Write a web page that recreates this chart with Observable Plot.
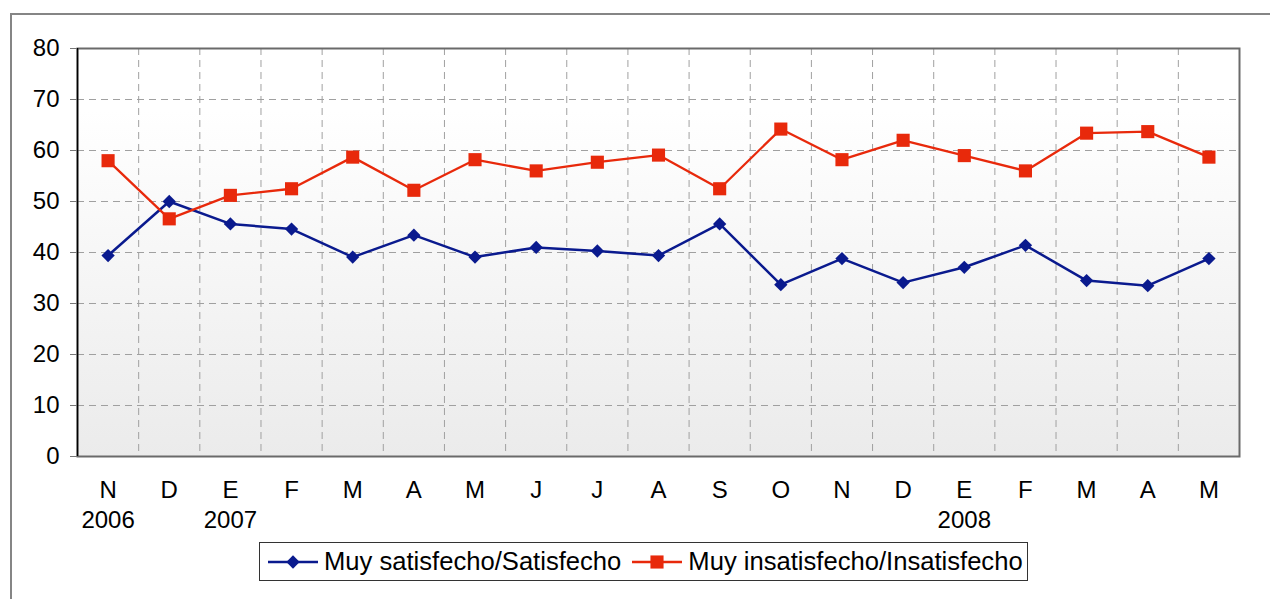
<!DOCTYPE html>
<html>
<head>
<meta charset="utf-8">
<script src="https://cdn.jsdelivr.net/npm/d3@7"></script>
<script src="https://cdn.jsdelivr.net/npm/@observablehq/plot@0.6"></script>
<style>
  html, body { margin: 0; padding: 0; background: #fff; overflow: hidden; width: 1270px; height: 599px; }
  body { position: relative; font-family: "Liberation Sans", Arial, sans-serif; }
  #outer { position: absolute; left: 10px; top: 13px; width: 1400px; height: 800px;
           border-top: 2px solid #858585; border-left: 2px solid #858585; box-sizing: border-box; }
  #chart { position: absolute; left: 0; top: 0; }
  #legend { position: absolute; left: 259px; top: 542px; width: 769px; height: 39px; box-sizing: border-box;
            border: 1px solid #333; background: #fff; display: flex; align-items: center;
            font-size: 25.6px; color: #000; white-space: nowrap; }
  #legend .item { display: flex; align-items: center; }
  #legend svg { display: block; }
</style>
</head>
<body>
<div id="outer"></div>
<div id="chart"></div>
<div id="legend"></div>
<script>
const months = ["N","D","E","F","M","A","M","J","J","A","S","O","N","D","E","F","M","A","M"];
const years  = ["2006","","2007","","","","","","","","","","","","2008","","","",""];
const satisfecho   = [39.4,50.0,45.6,44.6,39.1,43.4,39.1,41.0,40.3,39.4,45.6,33.7,38.8,34.1,37.1,41.4,34.5,33.5,38.8];
const insatisfecho = [58.0,46.6,51.2,52.5,58.7,52.2,58.2,56.0,57.7,59.1,52.5,64.2,58.2,62.0,59.0,56.0,63.4,63.7,58.7];
const yTicks = [0,10,20,30,40,50,60,70,80];
const seriesNames = ["Muy satisfecho/Satisfecho", "Muy insatisfecho/Insatisfecho"];
const seriesColors = ["#0a1a8e", "#e8290b"];

const idx = months.map((_, i) => i);
const xDomain = [-0.5, months.length - 0.5];
const boundaries = idx.slice(1).map(i => i - 0.5);
const gridY = yTicks.slice(1, -1);

const plot = Plot.plot({
  width: 1270,
  height: 535,
  marginTop: 48,
  marginLeft: 77,
  marginRight: 31,
  marginBottom: 79,
  style: { background: "transparent", fontFamily: "'Liberation Sans', Arial, sans-serif", fontSize: "24px", color: "#000" },
  x: { type: "linear", domain: xDomain },
  y: { domain: [0, 80] },
  marks: [
    Plot.frame({ fill: "url(#bgGrad)" }),
    Plot.gridY(gridY, { stroke: "#a0a0a0", strokeOpacity: 1, strokeDasharray: "7,5", strokeWidth: 1 }),
    Plot.ruleX(boundaries, { stroke: "#a0a0a0", strokeDasharray: "7,5", strokeWidth: 1 }),
    Plot.frame({ stroke: "#6a6a6a", strokeWidth: 2 }),
    Plot.ruleX([xDomain[0]], { stroke: "#000", strokeWidth: 1.5 }),
    Plot.axisY({ ticks: yTicks, tickSize: 7, tickPadding: 11, stroke: "#777", fill: "#000", fontSize: 24, label: null }),
    Plot.axisX({ ticks: idx, tickFormat: i => months[i], tickSize: 0, tickPadding: 24, fontSize: 24, label: null }),
    Plot.axisX({ ticks: idx, tickFormat: i => years[i], tickSize: 0, tickPadding: 54, fontSize: 24, label: null }),
    Plot.line(idx, { x: i => i, y: i => satisfecho[i], stroke: seriesColors[0], strokeWidth: 2.5 }),
    Plot.line(idx, { x: i => i, y: i => insatisfecho[i], stroke: seriesColors[1], strokeWidth: 2.3 }),
    Plot.dot(idx, { x: i => i, y: i => satisfecho[i], symbol: "diamond2", r: 6, fill: seriesColors[0], stroke: "none" }),
    Plot.dot(idx, { x: i => i, y: i => insatisfecho[i], symbol: "square", r: 7.4, fill: seriesColors[1], stroke: "none" })
  ]
});

// gradient background for the plot area
const ns = "http://www.w3.org/2000/svg";
const defs = document.createElementNS(ns, "defs");
defs.innerHTML = '<linearGradient id="bgGrad" x1="0" y1="0" x2="0" y2="1">' +
  '<stop offset="0" stop-color="#ffffff"/><stop offset="0.15" stop-color="#ffffff"/>' +
  '<stop offset="1" stop-color="#ebebeb"/></linearGradient>';
plot.insertBefore(defs, plot.firstChild);
document.getElementById("chart").appendChild(plot);

// legend
const legend = document.getElementById("legend");
const sizes = [6, 7.4];
seriesNames.forEach((name, k) => {
  const item = document.createElement("div");
  item.className = "item";
  item.style.marginLeft = k === 0 ? "7px" : "10px";
  const sw = d3.create("svg").attr("width", 52).attr("height", 20);
  sw.append("line").attr("x1", 1).attr("x2", 51).attr("y1", 10).attr("y2", 10)
    .attr("stroke", seriesColors[k]).attr("stroke-width", 2.5);
  const sym = k === 0 ? d3.symbolDiamond2 : d3.symbolSquare;
  sw.append("path").attr("transform", "translate(26,10)")
    .attr("d", d3.symbol(sym, Math.PI * sizes[k] * sizes[k])())
    .attr("fill", seriesColors[k]);
  item.appendChild(sw.node());
  const t = document.createElement("span");
  t.textContent = name;
  t.style.marginLeft = "5px";
  item.appendChild(t);
  legend.appendChild(item);
});
</script>
</body>
</html>
